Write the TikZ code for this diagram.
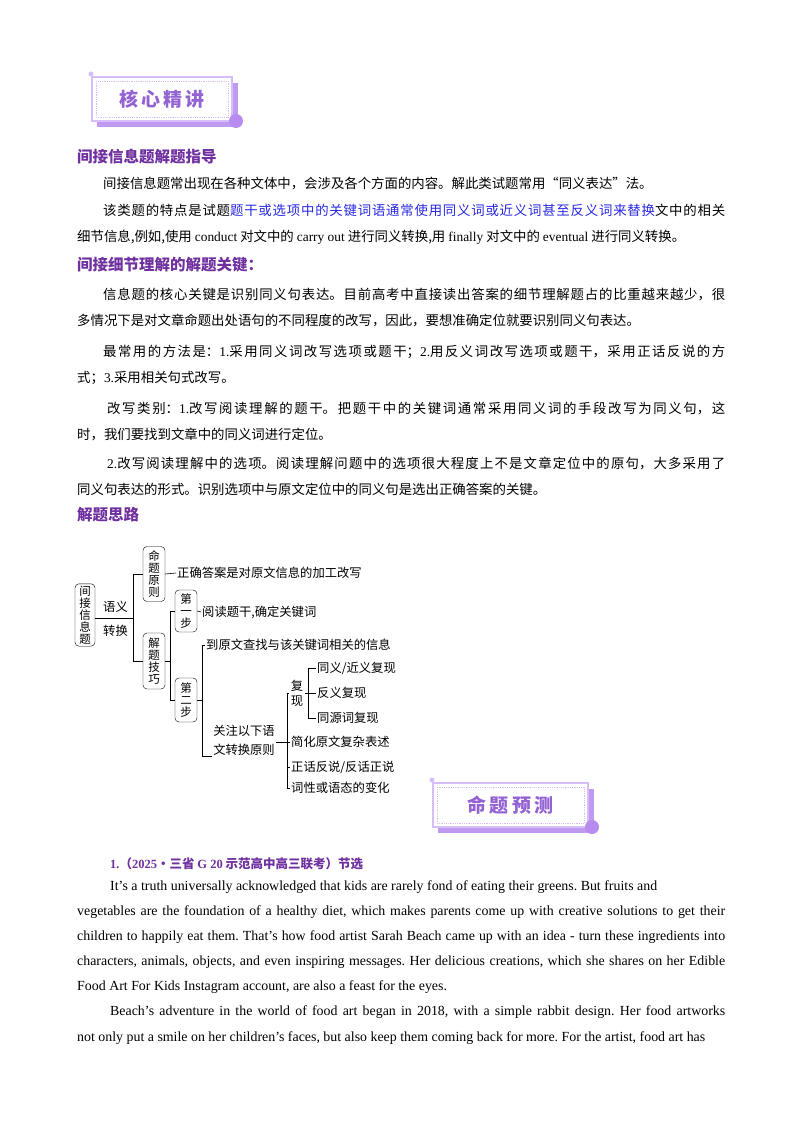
\documentclass[tikz,border=0pt]{standalone}
\usepackage{fontspec}
\setmainfont{Liberation Serif}
\newfontfamily\cjk{Noto Sans CJK SC}
\usepackage{tikz}
\usetikzlibrary{positioning}
\definecolor{headpurple}{RGB}{112,48,160}
\definecolor{badgepurple}{RGB}{165,110,235}
\definecolor{badgelight}{RGB}{215,190,250}
\definecolor{keyblue}{RGB}{40,40,230}
\XeTeXlinebreaklocale "zh"
\XeTeXlinebreakskip=0pt plus 1pt
\frenchspacing

\newcommand{\en}[1]{{\rmfamily #1}}
\newcommand{\badge}[5]{% x1,y1,x2,y2,text
  \fill [badgepurple!70] (#1+5,#2+6) rectangle (#3+6,#4+6);
  \filldraw [fill=white, draw=badgelight, line width=1.5pt] (#1,#2) rectangle (#3,#4);
  \draw [badgelight, densely dotted, line width=0.8pt] (#1+4,#2+4) rectangle (#3-4,#4-4);
  \fill [badgepurple!80] (#3+4,#4) circle (7);
  \fill [badgelight] (#1-1,#2-3) circle (2.5);
  \node [font=\cjk\bfseries\fontsize{19}{19}\selectfont, text=badgepurple!90!black] at ({(#1+#3)/2},{(#2+#4)/2}) {#5};
}

\begin{document}
\begin{tikzpicture}[x=1pt, y=-1pt,
  head/.style={anchor=west, inner sep=0, font=\cjk\bfseries\fontsize{15.5}{15.5}\selectfont, text=headpurple},
  para/.style={anchor=north west, inner sep=0, text width=648pt, align=justify,
    font=\cjk\fontsize{13.4}{25.5}\selectfont},
  engl/.style={anchor=north west, inner sep=0, text width=648pt, align=justify,
    font=\rmfamily\fontsize{13.9}{25}\selectfont},
  vbox/.style={draw, rounded corners=4pt, align=center, inner sep=2pt,
    font=\cjk\fontsize{11.5}{12}\selectfont},
  leaf/.style={anchor=west, inner sep=1pt, font=\cjk\fontsize{12.3}{12}\selectfont},
  link/.style={line width=0.6pt}]
\useasboundingbox [fill=white] (0,0) rectangle (800,1134);

% header badge
\badge{92}{77}{232}{121}{核\,心\,精\,讲}

% text part
\node [head] (h1) at (77,157) {间接信息题解题指导};
\node [para] (p1) at (77,177) {\hspace*{26pt}间接信息题常出现在各种文体中，会涉及各个方面的内容。解此类试题常用“同义表达”法。};
\node [para] (p2) at (77,204) {\hspace*{26pt}该类题的特点是试题\textcolor{keyblue}{题干或选项中的关键词语通常使用同义词或近义词甚至反义词来替换}文中的相关\linebreak 细节信息,例如,使用 \en{conduct} 对文中的 \en{carry out} 进行同义转换,用 \en{finally} 对文中的 \en{eventual} 进行同义转换。};
\node [head] (h2) at (77,265) {间接细节理解的解题关键：};
\node [para] (p3) at (77,288) {\hspace*{26pt}信息题的核心关键是识别同义句表达。目前高考中直接读出答案的细节理解题占的比重越来越少，很\linebreak 多情况下是对文章命题出处语句的不同程度的改写，因此，要想准确定位就要识别同义句表达。};
\node [para] (p4) at (77,345) {\hspace*{26pt}最常用的方法是：\en{1.}采用同义词改写选项或题干；\en{2.}用反义词改写选项或题干，采用正话反说的方\linebreak 式；\en{3.}采用相关句式改写。};
\node [para] (p5) at (77,402) {\hspace*{30pt}改写类别：\en{1.}改写阅读理解的题干。把题干中的关键词通常采用同义词的手段改写为同义句，这\linebreak 时，我们要找到文章中的同义词进行定位。};
\node [para] (p6) at (77,457) {\hspace*{30pt}\en{2.}改写阅读理解中的选项。阅读理解问题中的选项很大程度上不是文章定位中的原句，大多采用了\linebreak 同义句表达的形式。识别选项中与原文定位中的同义句是选出正确答案的关键。};
\node [head] (h3) at (77,515) {解题思路};

% tree
\node [vbox, minimum width=20pt, minimum height=60pt] (root) at (85,615) {间\\接\\信\\息\\题};
\node [vbox, minimum width=22pt, minimum height=55pt] (mtyz) at (154,574) {命\\题\\原\\则};
\node [vbox, minimum width=22pt, minimum height=56pt] (jtjq) at (154,661) {解\\题\\技\\巧};
\node [vbox, minimum width=22pt, minimum height=42pt] (step1) at (186,611) {第\\一\\步};
\node [vbox, minimum width=22pt, minimum height=44pt] (step2) at (186,700) {第\\二\\步};
\node [leaf] (yyzh1) at (102,607) {语义};
\node [leaf] (yyzh2) at (102,631) {转换};
\node [leaf] (zqda) at (176,573) {正确答案是对原文信息的加工改写};
\node [leaf] (ydtg) at (201,612) {阅读题干,确定关键词};
\node [leaf] (dywc) at (205,645) {到原文查找与该关键词相关的信息};
\node [align=center, inner sep=1pt, font=\cjk\fontsize{12.3}{19}\selectfont] (gzyx) at (244,740) {关注以下语\\文转换原则};
\node [vbox, draw=none, font=\cjk\fontsize{12.3}{12}\selectfont] (fx) at (297,693) {复\\[3pt]现};
\node [leaf] (tyjy) at (316,668) {同义/近义复现};
\node [leaf] (fyfx) at (316,693) {反义复现};
\node [leaf] (tycf) at (316,718) {同源词复现};
\node [leaf] (jhyw) at (290,742) {简化原文复杂表述};
\node [leaf] (zhfs) at (290,767) {正话反说/反话正说};
\node [leaf] (cxyt) at (290,788) {词性或语态的变化};

\coordinate (c1) at (133,618);
\coordinate (c2) at (170,661);
\coordinate (c3) at (202,700);
\coordinate (c4) at (287,742);
\coordinate (c5) at (308,693);
\draw [link] (root.east |- c1) -- (c1);
\draw [link] (mtyz.west -| c1) -- (jtjq.west -| c1);
\draw [link] (mtyz.west -| c1) -- (mtyz.west);
\draw [link] (jtjq.west -| c1) -- (jtjq.west);
\draw [link] (mtyz.east) -- (zqda.west);
\draw [link] (jtjq.east) -- (c2);
\draw [link] (step1.west -| c2) -- (step2.west -| c2);
\draw [link] (step1.west -| c2) -- (step1.west);
\draw [link] (step2.west -| c2) -- (step2.west);
\draw [link] (step1.east) -- (ydtg.west);
\draw [link] (step2.east) -- (c3);
\draw [link] (dywc.west -| c3) -- (c3 |- gzyx.south) -- (gzyx.south west);
\draw [link] (dywc.west -| c3) -- (dywc.west);
\draw [link] (gzyx.east |- c4) -- (c4);
\draw [link] (fx.west -| c4) -- (cxyt.west -| c4);
\draw [link] (fx.west -| c4) -- (fx.west);
\draw [link] (c4) -- (jhyw.west);
\draw [link] (zhfs.west -| c4) -- (zhfs.west);
\draw [link] (cxyt.west -| c4) -- (cxyt.west);
\draw [link] (tyjy.west -| c5) -- (tycf.west -| c5);
\draw [link] (tyjy.west -| c5) -- (tyjy.west);
\draw [link] (fx.east) -- (fyfx.west);
\draw [link] (tycf.west -| c5) -- (tycf.west);

% second badge
\badge{433}{783}{588}{827}{命\,题\,预\,测}

% exercise
\node [head, font=\cjk\bfseries\fontsize{12.5}{12.5}\selectfont] (q1) at (110,864) {\en{\bfseries 1.}（\en{\bfseries 2025}·三省 \en{\bfseries G 20} 示范高中高三联考）节选};
\node [engl] (e1) at (77,881) {\hspace*{33pt}It’s a truth universally acknowledged that kids are rarely fond of eating their greens. But fruits and\newline vegetables are the foundation of a healthy diet, which makes parents come up with creative solutions to get their\linebreak children to happily eat them. That’s how food artist Sarah Beach came up with an idea - turn these ingredients into\linebreak characters, animals, objects, and even inspiring messages. Her delicious creations, which she shares on her Edible\linebreak Food Art For Kids Instagram account, are also a feast for the eyes.};
\node [engl] (e2) at (77,1006) {\hspace*{33pt}Beach’s adventure in the world of food art began in 2018, with a simple rabbit design. Her food artworks\linebreak not only put a smile on her children’s faces, but also keep them coming back for more. For the artist, food art has};
\end{tikzpicture}
\end{document}
